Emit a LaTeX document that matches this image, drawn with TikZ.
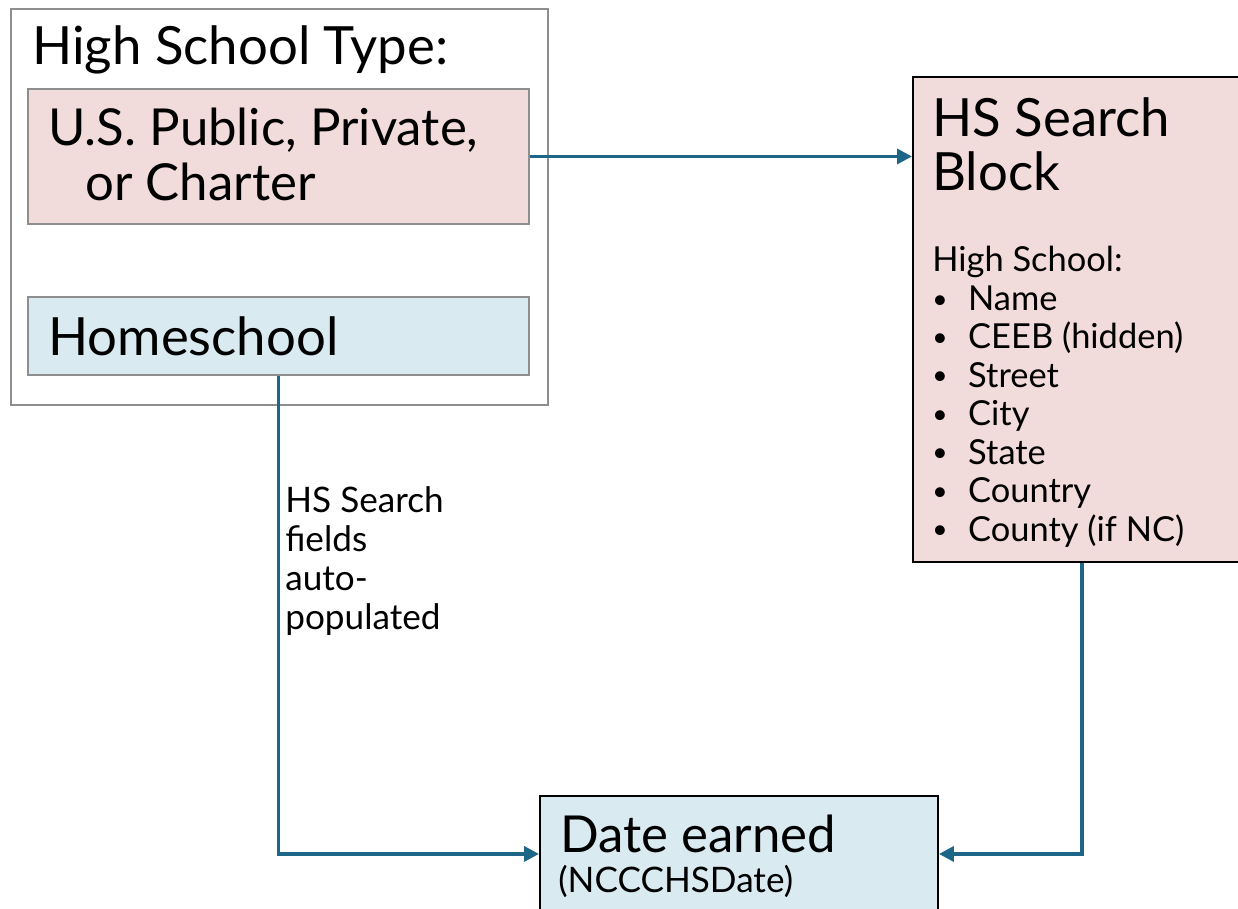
\documentclass[tikz,border=0pt]{standalone}
\usepackage{fontspec}
\setmainfont{Lato}
\usetikzlibrary{arrows.meta}
\usetikzlibrary{positioning}

\definecolor{pinkfill}{HTML}{F2DCDB}
\definecolor{bluefill}{HTML}{DAEAF1}
\definecolor{linkblue}{HTML}{1D6687}
\definecolor{framegray}{HTML}{8E8E8E}

\newcommand{\bigtext}{\fontsize{30}{31.3}\selectfont}
\newcommand{\smalltext}{\fontsize{19.6}{21.9}\selectfont}
\newcommand{\itembullet}{\makebox[20.4pt][l]{\raisebox{1.2pt}{\fontsize{15}{15}\selectfont•}}}

\begin{document}
\begin{tikzpicture}[x=0.02cm, y=-0.02cm,
    frame/.style={draw=framegray, line width=1.1pt, inner sep=0pt, anchor=north west},
    pinkbox/.style={frame, fill=pinkfill},
    bluebox/.style={frame, fill=bluefill},
    label/.style={inner sep=0pt, anchor=base west, align=left},
    link/.style={draw=linkblue, line width=2pt, -{Triangle[length=8.5pt,width=8.5pt]}}]

    \useasboundingbox (0,0) rectangle (1238,909);
    \clip (0,0) rectangle (1238,909);

    % boxes
    \node[frame, minimum width=537*0.02cm, minimum height=396*0.02cm] (type) at (10,8) {};
    \node[pinkbox, minimum width=501*0.02cm, minimum height=135*0.02cm] (pub) at (27,88) {};
    \node[bluebox, minimum width=501*0.02cm, minimum height=78*0.02cm] (home) at (27,296) {};
    \node[pinkbox, draw=black, minimum width=338*0.02cm, minimum height=485*0.02cm] (blk) at (912,76) {};
    \node[bluebox, draw=black, minimum width=398*0.02cm, minimum height=116*0.02cm] (date) at (539,795) {};

    % texts (base = last line)
    \node[label, font=\bigtext] (typetxt) at (32,65) {High School Type:};
    \node[label, font=\fontsize{29}{31.3}\selectfont] (pubtxt) at (48,200) {U.S. Public, Private,\\\hspace*{21pt}or Charter};
    \node[label, font=\bigtext] (hometxt) at (48,355) {Homeschool};
    \node[label, font=\bigtext] (blktxt) at (932,191) {HS Search\\Block};
    \node[label, font=\smalltext] (fieldtxt) at (932,541) {High School:\\
        \itembullet Name\\
        \itembullet CEEB (hidden)\\
        \itembullet Street\\
        \itembullet City\\
        \itembullet State\\
        \itembullet Country\\
        \itembullet County (if NC)};
    \node[label, font=\fontsize{29}{31}\selectfont] (datetxt) at (560,852) {Date earned};
    \node[label, font=\fontsize{20}{22}\selectfont] (codetxt) at (558,892) {(NCCCHSDate)};
    \node[label, font=\fontsize{20}{22.1}\selectfont] (autotxt) at (285,629) {HS Search\\fields\\auto-\\populated};

    % connectors
    \draw[link] (pub.east) -- (pub.east -| blk.west);
    \draw[link] (home.south) |- (date.west);
    \draw[link] (blk.south) |- (date.east);

\end{tikzpicture}
\end{document}
